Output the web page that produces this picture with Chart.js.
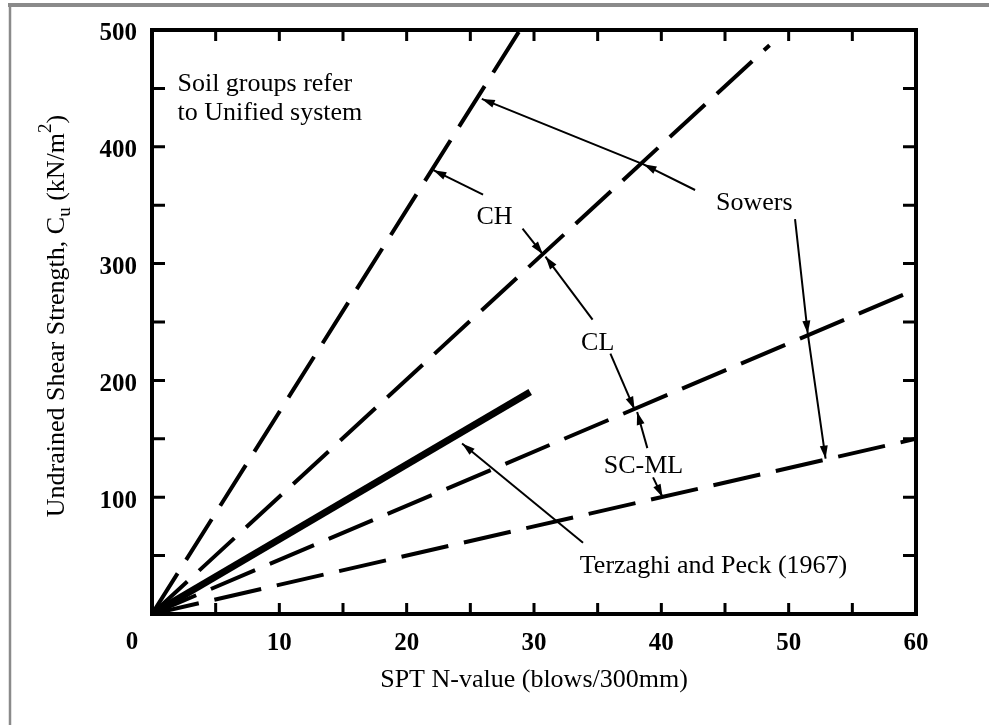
<!DOCTYPE html>
<html>
<head>
<meta charset="utf-8">
<title>Undrained shear strength vs SPT N-value</title>
<script src="https://cdn.jsdelivr.net/npm/chart.js@4.4.1/dist/chart.umd.min.js"></script>
<style>
  html, body { margin: 0; padding: 0; background: #fff; }
  #wrap { position: relative; width: 989px; height: 725px; }
</style>
</head>
<body>
<div id="wrap"><canvas id="cuChart"></canvas></div>
<script>
// Sowers boundary lines, each running from the origin to its end point
const boundaryNames = ['CH upper', 'CH / CL', 'CL / SC-ML', 'SC-ML lower'];
const boundaryEndN = [28.9, 48.5, 60, 60];
const boundaryEndCu = [500, 487, 278, 150];

// Terzaghi and Peck (1967)
const tpEndN = 29.7;
const tpEndCu = 190;

const xTickValues = [0, 10, 20, 30, 40, 50, 60];
const yTickValues = [0, 100, 200, 300, 400, 500];
const xMarkStep = 5;
const yMarkStep = 50;

const SERIF = '"Liberation Serif", "Times New Roman", serif';

// text notes, positioned in data units (N, Cu)
const notes = [
  { text: 'Soil groups refer', n: 2.0, cu: 448, align: 'left' },
  { text: 'to Unified system', n: 2.0, cu: 423, align: 'left' },
  { text: 'CH', n: 26.9, cu: 334, align: 'center' },
  { text: 'Sowers', n: 47.3, cu: 346, align: 'center' },
  { text: 'CL', n: 35.0, cu: 226, align: 'center' },
  { text: 'SC-ML', n: 38.6, cu: 121, align: 'center' },
  { text: 'Terzaghi and Peck (1967)', n: 44.1, cu: 35, align: 'center' }
];

// leader lines; an arrow head is drawn at every point after the first
const pointers = [
  [[26.0, 359], [22.1, 380]],
  [[29.1, 330], [30.7, 308]],
  [[34.6, 252], [30.9, 306]],
  [[36.0, 223], [37.9, 175]],
  [[38.9, 142], [38.1, 173]],
  [[39.35, 117], [40.1, 100]],
  [[42.65, 363], [38.6, 385], [25.9, 441]],
  [[50.5, 338], [51.5, 240], [52.9, 133]],
  [[33.85, 61], [24.35, 146]]
];

function arrowHead(ctx, x0, y0, x1, y1) {
  const a = Math.atan2(y1 - y0, x1 - x0);
  const len = 13, half = 4;
  const c = Math.cos(a), s = Math.sin(a);
  ctx.beginPath();
  ctx.moveTo(x1, y1);
  ctx.lineTo(x1 - len * c + half * s, y1 - len * s - half * c);
  ctx.lineTo(x1 - len * c - half * s, y1 - len * s + half * c);
  ctx.closePath();
  ctx.fill();
}

function drawYTitle(ctx, area) {
  const parts = [
    { t: 'Undrained Shear Strength, C', size: 26, dy: 0 },
    { t: 'u', size: 19, dy: 6 },
    { t: ' (kN/m', size: 26, dy: 0 },
    { t: '2', size: 19, dy: -13 },
    { t: ')', size: 26, dy: 0 }
  ];
  let total = 0;
  parts.forEach((p) => {
    ctx.font = p.size + 'px ' + SERIF;
    p.w = ctx.measureText(p.t).width;
    total += p.w;
  });
  ctx.save();
  ctx.translate(64, (area.top + area.bottom) / 2 - 6);
  ctx.rotate(-Math.PI / 2);
  ctx.textAlign = 'left';
  ctx.textBaseline = 'alphabetic';
  let x = -total / 2;
  parts.forEach((p) => {
    ctx.font = p.size + 'px ' + SERIF;
    ctx.fillText(p.t, x, p.dy);
    x += p.w;
  });
  ctx.restore();
}

const framePlugin = {
  id: 'frame',
  beforeDraw(chart) {
    const ctx = chart.ctx;
    ctx.save();
    ctx.strokeStyle = '#8a8a8a';
    ctx.lineWidth = 4;
    ctx.beginPath();
    ctx.moveTo(8, 5);
    ctx.lineTo(chart.width, 5);
    ctx.stroke();
    ctx.lineWidth = 2.5;
    ctx.beginPath();
    ctx.moveTo(10, 5);
    ctx.lineTo(10, chart.height);
    ctx.stroke();
    ctx.restore();
  },
  afterDatasetsDraw(chart) {
    const { ctx, chartArea: area, scales: { x, y } } = chart;
    ctx.save();

    // box with inward ticks on all four sides
    ctx.strokeStyle = '#000';
    ctx.lineWidth = 3;
    ctx.beginPath();
    for (let v = xMarkStep; v < x.max; v += xMarkStep) {
      const px = x.getPixelForValue(v);
      ctx.moveTo(px, area.bottom);
      ctx.lineTo(px, area.bottom - 11);
      ctx.moveTo(px, area.top);
      ctx.lineTo(px, area.top + 11);
    }
    for (let v = yMarkStep; v < y.max; v += yMarkStep) {
      const py = y.getPixelForValue(v);
      ctx.moveTo(area.left, py);
      ctx.lineTo(area.left + 13, py);
      ctx.moveTo(area.right, py);
      ctx.lineTo(area.right - 13, py);
    }
    ctx.stroke();
    ctx.lineWidth = 4;
    ctx.strokeRect(area.left, area.top, area.right - area.left, area.bottom - area.top);

    // shared origin label
    ctx.fillStyle = '#000';
    ctx.font = 'bold 25px ' + SERIF;
    ctx.textAlign = 'center';
    ctx.textBaseline = 'middle';
    ctx.fillText('0', area.left - 20, area.bottom + 29);

    // leader arrows
    ctx.lineWidth = 2;
    pointers.forEach((path) => {
      const pts = path.map(([n, cu]) => [x.getPixelForValue(n), y.getPixelForValue(cu)]);
      ctx.beginPath();
      ctx.moveTo(pts[0][0], pts[0][1]);
      for (let i = 1; i < pts.length; i++) ctx.lineTo(pts[i][0], pts[i][1]);
      ctx.stroke();
      for (let i = 1; i < pts.length; i++) {
        arrowHead(ctx, pts[i - 1][0], pts[i - 1][1], pts[i][0], pts[i][1]);
      }
    });

    // notes
    ctx.font = '26px ' + SERIF;
    ctx.textBaseline = 'alphabetic';
    notes.forEach((t) => {
      ctx.textAlign = t.align;
      ctx.fillText(t.text, x.getPixelForValue(t.n), y.getPixelForValue(t.cu));
    });

    drawYTitle(ctx, area);
    ctx.restore();
  }
};

const datasets = boundaryNames.map((name, i) => ({
  label: name,
  data: [{ x: 0, y: 0 }, { x: boundaryEndN[i], y: boundaryEndCu[i] }],
  borderColor: '#000',
  borderWidth: 4,
  borderDash: [48, 16],
  pointRadius: 0,
  showLine: true
}));
datasets.push({
  label: 'Terzaghi and Peck (1967)',
  data: [{ x: 0, y: 0 }, { x: tpEndN, y: tpEndCu }],
  borderColor: '#000',
  borderWidth: 7,
  pointRadius: 0,
  showLine: true
});

new Chart(document.getElementById('cuChart'), {
  type: 'scatter',
  data: { datasets },
  options: {
    responsive: true,
    maintainAspectRatio: false,
    animation: false,
    layout: { padding: { top: 28, right: 73, bottom: 0, left: 0 } },
    plugins: { legend: { display: false }, tooltip: { enabled: false } },
    scales: {
      x: {
        type: 'linear',
        min: 0,
        max: 60,
        afterBuildTicks: (s) => { s.ticks = xTickValues.map((v) => ({ value: v })); },
        afterFit: (s) => { s.height = 111; },
        grid: { display: false, drawTicks: false },
        border: { display: false },
        ticks: {
          padding: 15,
          color: '#000',
          font: { family: SERIF, size: 25, weight: 'bold' },
          callback: (v) => (v === 0 ? '' : v)
        },
        title: {
          display: true,
          text: 'SPT N-value (blows/300mm)',
          color: '#000',
          font: { family: SERIF, size: 26 },
          padding: { top: 0, bottom: 29 }
        }
      },
      y: {
        type: 'linear',
        min: 0,
        max: 500,
        afterBuildTicks: (s) => { s.ticks = yTickValues.map((v) => ({ value: v })); },
        afterFit: (s) => { s.width = 152; },
        grid: { display: false, drawTicks: false },
        border: { display: false },
        ticks: {
          padding: 15,
          labelOffset: 4,
          color: '#000',
          font: { family: SERIF, size: 25, weight: 'bold' },
          callback: (v) => (v === 0 ? '' : v)
        }
      }
    }
  },
  plugins: [framePlugin]
});
</script>
</body>
</html>
